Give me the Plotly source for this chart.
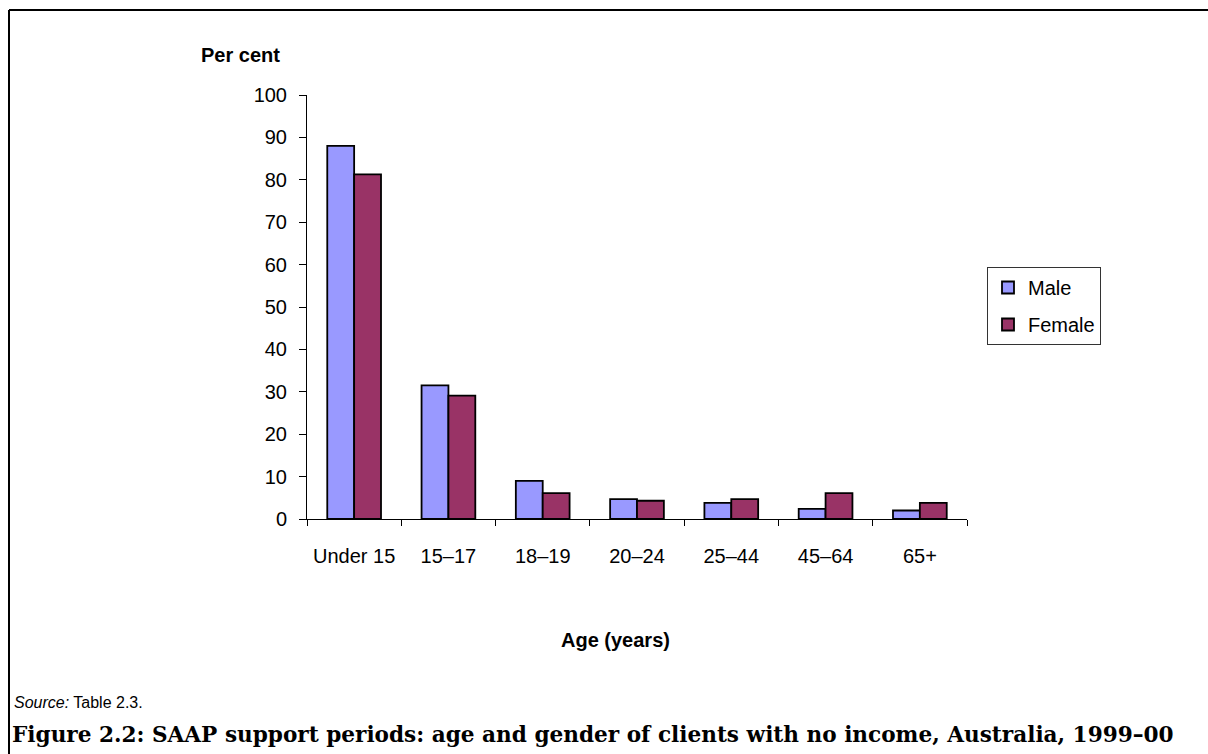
import plotly.graph_objects as go

# Age groups and share of support periods with no income (per cent)
age_groups = ["Under 15", "15–17", "18–19", "20–24", "25–44", "45–64", "65+"]
male = [88.0, 31.5, 9.0, 4.7, 3.8, 2.4, 2.0]
female = [81.3, 29.1, 6.1, 4.3, 4.7, 6.1, 3.8]
y_ticks = [0, 10, 20, 30, 40, 50, 60, 70, 80, 90, 100]

W, H = 1208, 754
L, R = 307, 967          # plot area, pixels
T, B = 95, 519.3

def px(x):
    return (x - L) / (R - L)

def py(y):
    return (B - y) / (B - T)

SANS = "Liberation Sans, Arial, sans-serif"

fig = go.Figure()
fig.add_trace(go.Bar(
    name="Male", x=age_groups, y=male, legendgroup="male",
    marker=dict(color="#9999FF", line=dict(color="black", width=1.8)),
))
fig.add_trace(go.Bar(
    name="Female", x=age_groups, y=female, legendgroup="female",
    marker=dict(color="#993366", line=dict(color="black", width=1.8)),
))

fig.update_layout(
    width=W, height=H,
    margin=dict(l=L, r=W - R, t=T, b=H - B, autoexpand=False),
    paper_bgcolor="white", plot_bgcolor="white",
    barmode="group", bargap=0.43, bargroupgap=0,
    font=dict(family=SANS, size=20, color="black"),
    showlegend=True,
    legend=dict(
        xref="container", yref="container",
        x=987 / W, y=1 - 267 / H, xanchor="left", yanchor="top",
        bordercolor="#333333", borderwidth=1, bgcolor="white",
        font=dict(family=SANS, size=20, color="black"),
        tracegroupgap=8, itemwidth=30,
    ),
    xaxis=dict(
        type="category", showgrid=False, zeroline=False,
        showline=True, linecolor="black", linewidth=1,
        ticks="outside", ticklen=6, tickcolor="black", tickson="boundaries",
        ticklabelstandoff=19,
        tickfont=dict(family=SANS, size=20),
    ),
    yaxis=dict(
        range=[0, 100], tickvals=y_ticks, showgrid=False, zeroline=False,
        showline=True, linecolor="black", linewidth=1,
        ticks="outside", ticklen=7, tickcolor="black",
        ticklabelstandoff=8,
        tickfont=dict(family=SANS, size=20),
    ),
)

# Frame around the figure (top and left edges)
fig.add_shape(type="line", xref="paper", yref="paper",
              x0=px(9), x1=px(1210), y0=py(10), y1=py(10),
              line=dict(color="black", width=2))
fig.add_shape(type="line", xref="paper", yref="paper",
              x0=px(9), x1=px(9), y0=py(10), y1=py(760),
              line=dict(color="black", width=2))

annotations = [
    dict(text="<b>Per cent</b>", x=px(240), y=py(55), size=20,
         family=SANS, xanchor="center"),
    dict(text="<b>Age (years)</b>", x=px(615), y=py(640), size=20,
         family=SANS, xanchor="center"),
    dict(text="<i>Source:</i> Table 2.3.", x=px(12), y=py(703), size=16,
         family=SANS, xanchor="left"),
    dict(text="<b>Figure 2.2: SAAP support periods: age and gender of clients "
              "with no income, Australia, 1999–00</b>",
         x=px(10), y=py(735), size=21.6,
         family="DejaVu Serif, serif", xanchor="left"),
]
for a in annotations:
    fig.add_annotation(
        text=a["text"], xref="paper", yref="paper", x=a["x"], y=a["y"],
        xanchor=a["xanchor"], yanchor="middle", showarrow=False,
        font=dict(family=a["family"], size=a["size"], color="black"),
    )

fig.write_html("out.html")
